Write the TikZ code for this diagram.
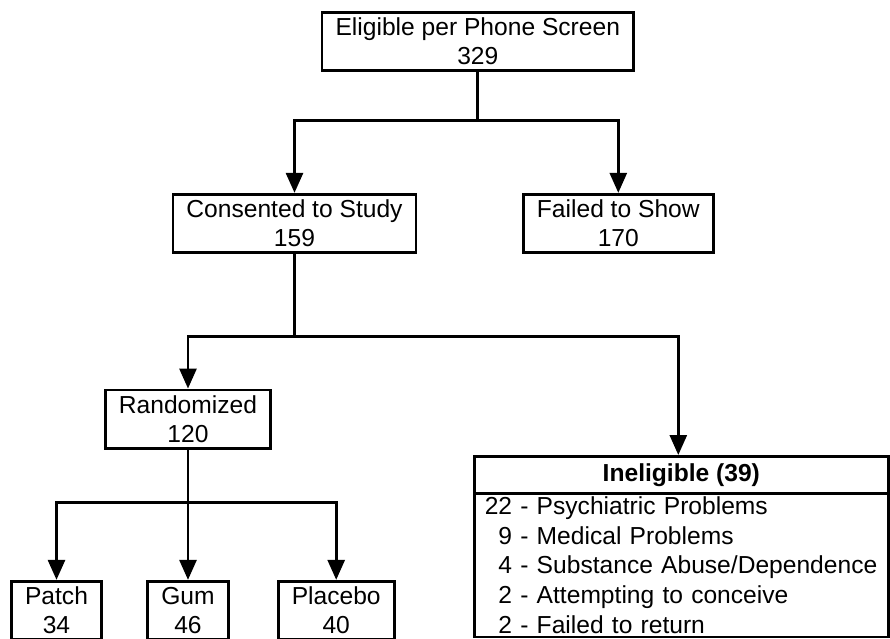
\documentclass[tikz,border=0pt]{standalone}
\usepackage{fontspec}
\setmainfont{Liberation Sans}
\usetikzlibrary{arrows.meta,positioning}
\tikzset{
	box/.style={draw, line width=2.8pt, align=center, inner xsep=13.5pt, inner ysep=0pt, minimum height=58.5pt},
	flow/.style={line width=2.8pt, -{Triangle[length=20pt,width=17pt]}},
}
\begin{document}
\begin{tikzpicture}[x=1pt, y=-1pt, font=\fontsize{24.6}{28.8}\selectfont, line join=miter]
	\clip (0,0) rectangle (890,638);
	\node[box] (elig) at (477.8,41.5) {Eligible per Phone Screen\\329};
	\node[box] (consent) at (294.5,223.5) {Consented to Study\\159};
	\node[box] (noshow) at (618.3,223.5) {Failed to Show\\170};
	\node[box] (random) at (188,419.2) {Randomized\\120};
	\node[box] (patch) at (56.5,610.5) {Patch\\34};
	\node[box] (gum) at (188,610.5) {Gum\\46};
	\node[box] (placebo) at (336.2,610.5) {Placebo\\40};
	% ineligible: heading + reasons
	\node[draw, line width=2.8pt, anchor=north, minimum width=414pt, minimum height=37.3pt, inner sep=0pt, font=\fontsize{24.6}{28.8}\selectfont\bfseries] (inelig) at (681.3,455) {Ineligible (39)};
	\node[draw, line width=2.8pt, below=-2.8pt of inelig, text width=393pt, align=left, inner xsep=10.5pt, inner ysep=0pt, text height=20.8pt, text depth=122.5pt, font=\fontsize{24.6}{29.7}\selectfont] (reasons) {\begin{tabular}[t]{@{}r@{ - }l@{}}
			22 & Psychiatric Problems\\
			9 & Medical Problems\\
			4 & Substance Abuse/Dependence\\
			2 & Attempting to conceive\\
			2 & Failed to return
		\end{tabular}};
	% connectors
	\coordinate (fork1) at (477.8,120.7);
	\coordinate (fork2) at (294.5,336.3);
	\coordinate (fork3) at (188,502.3);
	\draw[flow] (elig.south) -- (fork1) -| (consent.north);
	\draw[flow] (elig.south) -- (fork1) -| (noshow.north);
	\draw[flow] (consent.south) -- (fork2) -| (random.north);
	\draw[flow] (consent.south) -- (fork2) -| ([xshift=-3pt]inelig.north);
	\draw[flow] (random.south) -- (fork3) -| (patch.north);
	\draw[flow] (random.south) -- (gum.north);
	\draw[flow] (random.south) -- (fork3) -| (placebo.north);
\end{tikzpicture}
\end{document}
